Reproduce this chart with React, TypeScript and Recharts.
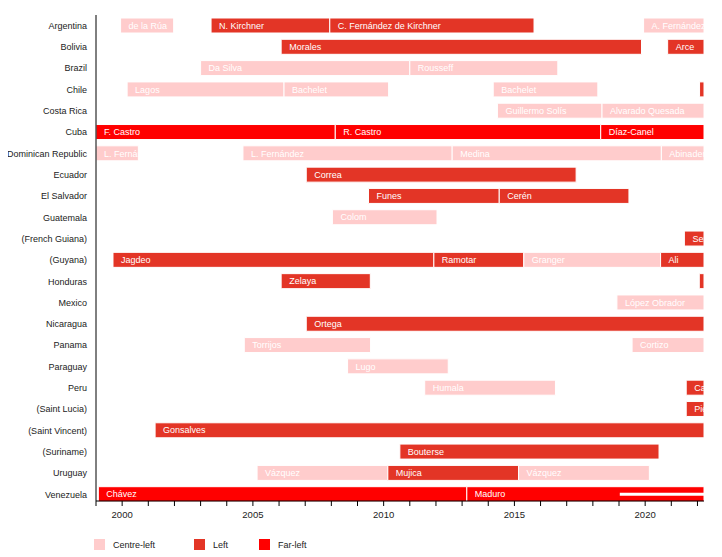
import { BarChart, Bar, XAxis, YAxis, Cell, LabelList, ReferenceLine } from "recharts";

const START = 1999;
const END = 2022.25;

const COUNTRIES = [
  "Argentina",
  "Bolivia",
  "Brazil",
  "Chile",
  "Costa Rica",
  "Cuba",
  "Dominican Republic",
  "Ecuador",
  "El Salvador",
  "Guatemala",
  "(French Guiana)",
  "(Guyana)",
  "Honduras",
  "Mexico",
  "Nicaragua",
  "Panama",
  "Paraguay",
  "Peru",
  "(Saint Lucia)",
  "(Saint Vincent)",
  "(Suriname)",
  "Uruguay",
  "Venezuela",
];

const LEANINGS = ["Centre-left", "Left", "Far-left"];
const LEANING_COLORS: Record<string, string> = {
  "Centre-left": "#ffcccc",
  Left: "#e33526",
  "Far-left": "#ff0000",
};

// [country, leader, from, to, leaning]
type Term = [string, string, number, number, string];
const TERMS: Term[] = [
  ["Argentina", "de la Rúa", 1999.94, 2001.97, "Centre-left"],
  ["Argentina", "N. Kirchner", 2003.4, 2007.94, "Left"],
  ["Argentina", "C. Fernández de Kirchner", 2007.94, 2015.75, "Left"],
  ["Argentina", "A. Fernández", 2019.94, END, "Centre-left"],
  ["Bolivia", "Morales", 2006.08, 2019.86, "Left"],
  ["Bolivia", "Arce", 2020.86, END, "Left"],
  ["Brazil", "Da Silva", 2003.0, 2011.0, "Centre-left"],
  ["Brazil", "Rousseff", 2011.0, 2016.66, "Centre-left"],
  ["Chile", "Lagos", 2000.19, 2006.19, "Centre-left"],
  ["Chile", "Bachelet", 2006.19, 2010.19, "Centre-left"],
  ["Chile", "Bachelet", 2014.19, 2018.19, "Centre-left"],
  ["Chile", "Boric", 2022.08, END, "Left"],
  ["Costa Rica", "Guillermo Solís", 2014.35, 2018.35, "Centre-left"],
  ["Costa Rica", "Alvarado Quesada", 2018.35, END, "Centre-left"],
  ["Cuba", "F. Castro", START, 2008.15, "Far-left"],
  ["Cuba", "R. Castro", 2008.15, 2018.3, "Far-left"],
  ["Cuba", "Díaz-Canel", 2018.3, END, "Far-left"],
  ["Dominican Republic", "L. Fernández", START, 2000.62, "Centre-left"],
  ["Dominican Republic", "L. Fernández", 2004.62, 2012.62, "Centre-left"],
  ["Dominican Republic", "Medina", 2012.62, 2020.62, "Centre-left"],
  ["Dominican Republic", "Abinader", 2020.62, END, "Centre-left"],
  ["Ecuador", "Correa", 2007.04, 2017.36, "Left"],
  ["El Salvador", "Funes", 2009.42, 2014.42, "Left"],
  ["El Salvador", "Cerén", 2014.42, 2019.38, "Left"],
  ["Guatemala", "Colom", 2008.04, 2012.04, "Centre-left"],
  ["(French Guiana)", "Serville", 2021.5, END, "Left"],
  ["(Guyana)", "Jagdeo", 1999.65, 2011.92, "Left"],
  ["(Guyana)", "Ramotar", 2011.92, 2015.36, "Left"],
  ["(Guyana)", "Granger", 2015.36, 2020.59, "Centre-left"],
  ["(Guyana)", "Ali", 2020.59, END, "Left"],
  ["Honduras", "Zelaya", 2006.08, 2009.49, "Left"],
  ["Honduras", "Castro", 2022.07, END, "Left"],
  ["Mexico", "López Obrador", 2018.92, END, "Centre-left"],
  ["Nicaragua", "Ortega", 2007.04, END, "Left"],
  ["Panama", "Torrijos", 2004.67, 2009.5, "Centre-left"],
  ["Panama", "Cortizo", 2019.5, END, "Centre-left"],
  ["Paraguay", "Lugo", 2008.62, 2012.47, "Centre-left"],
  ["Peru", "Humala", 2011.57, 2016.57, "Centre-left"],
  ["Peru", "Castillo", 2021.57, END, "Left"],
  ["(Saint Lucia)", "Pierre", 2021.57, END, "Left"],
  ["(Saint Vincent)", "Gonsalves", 2001.26, END, "Left"],
  ["(Suriname)", "Bouterse", 2010.62, 2020.53, "Left"],
  ["Uruguay", "Vázquez", 2005.16, 2010.16, "Centre-left"],
  ["Uruguay", "Mujica", 2010.16, 2015.16, "Left"],
  ["Uruguay", "Vázquez", 2015.16, 2020.16, "Centre-left"],
  ["Venezuela", "Chávez", 1999.09, 2013.18, "Far-left"],
  ["Venezuela", "Maduro", 2013.18, END, "Far-left"],
];

// disputed presidency (Guaidó), drawn as a white line over Maduro
const DISPUTED_FROM = 2019.03;

const YEARS = Array.from({ length: 24 }, (_, i) => START + i);
const SLOTS = [0, 1, 2, 3];

const rows = COUNTRIES.map((country) => {
  const row: Record<string, any> = { country };
  TERMS.filter((t) => t[0] === country).forEach((t, i) => {
    row[`r${i}`] = [t[2], t[3]];
    row[`n${i}`] = t[1];
    row[`c${i}`] = t[4];
  });
  return row;
});

function BarName(props: any) {
  const { x, y, height, value } = props;
  if (!value) return null;
  return (
    <text x={x + 8} y={y + height / 2} dy={3.2} fill="#fff" fontSize={9}>
      {value}
    </text>
  );
}

function CountryTick({ x = 0, y = 0, payload }: { x?: number; y?: number; payload?: { value: string } }) {
  return (
    <text x={x} y={y} dy={3.2} textAnchor="end" fill="#222" fontSize={9}>
      {payload?.value}
    </text>
  );
}

export default function App() {
  return (
    <div style={{ position: "relative", width: 696, height: 545, fontFamily: "'Liberation Sans', Arial, sans-serif" }}>
      <BarChart
        width={696}
        height={530}
        data={rows}
        layout="vertical"
        margin={{ top: 7, right: 0, bottom: 7, left: 0 }}
        barSize={15}
        barGap={-15}
      >
        <XAxis
          type="number"
          domain={[START, END]}
          ticks={YEARS}
          allowDataOverflow
          interval={0}
          tickFormatter={(v) => (v % 5 === 0 ? String(v) : "")}
          height={30}
          tickSize={5}
          tickMargin={5}
          stroke="#000"
          tick={{ fontSize: 9.5, fill: "#222" }}
        />
        <YAxis
          type="category"
          dataKey="country"
          width={88}
          interval={0}
          tickLine={false}
          tickSize={6}
          tickMargin={3}
          stroke="#000"
          padding={{ top: 0, bottom: -4 }}
          tick={<CountryTick />}
        />
        {SLOTS.map((s) => (
          <Bar key={s} dataKey={`r${s}`} stroke="#fff" strokeWidth={1} isAnimationActive={false}>
            {rows.map((r, i) => (
              <Cell key={i} fill={LEANING_COLORS[r[`c${s}`]] ?? "transparent"} />
            ))}
            <LabelList dataKey={`n${s}`} content={<BarName />} />
          </Bar>
        ))}
        <ReferenceLine
          segment={[
            { x: DISPUTED_FROM, y: "Venezuela" },
            { x: END, y: "Venezuela" },
          ]}
          stroke="#fff"
          strokeWidth={3}
        />
      </BarChart>
      <div style={{ position: "absolute", top: 531, left: 86, display: "flex", fontSize: 9, color: "#222" }}>
        {LEANINGS.map((l, i) => (
          <div key={l} style={{ display: "flex", alignItems: "center", width: i === 0 ? 100 : 65 }}>
            <span style={{ width: 11, height: 11, background: LEANING_COLORS[l], marginRight: 8 }} />
            {l}
          </div>
        ))}
      </div>
    </div>
  );
}
